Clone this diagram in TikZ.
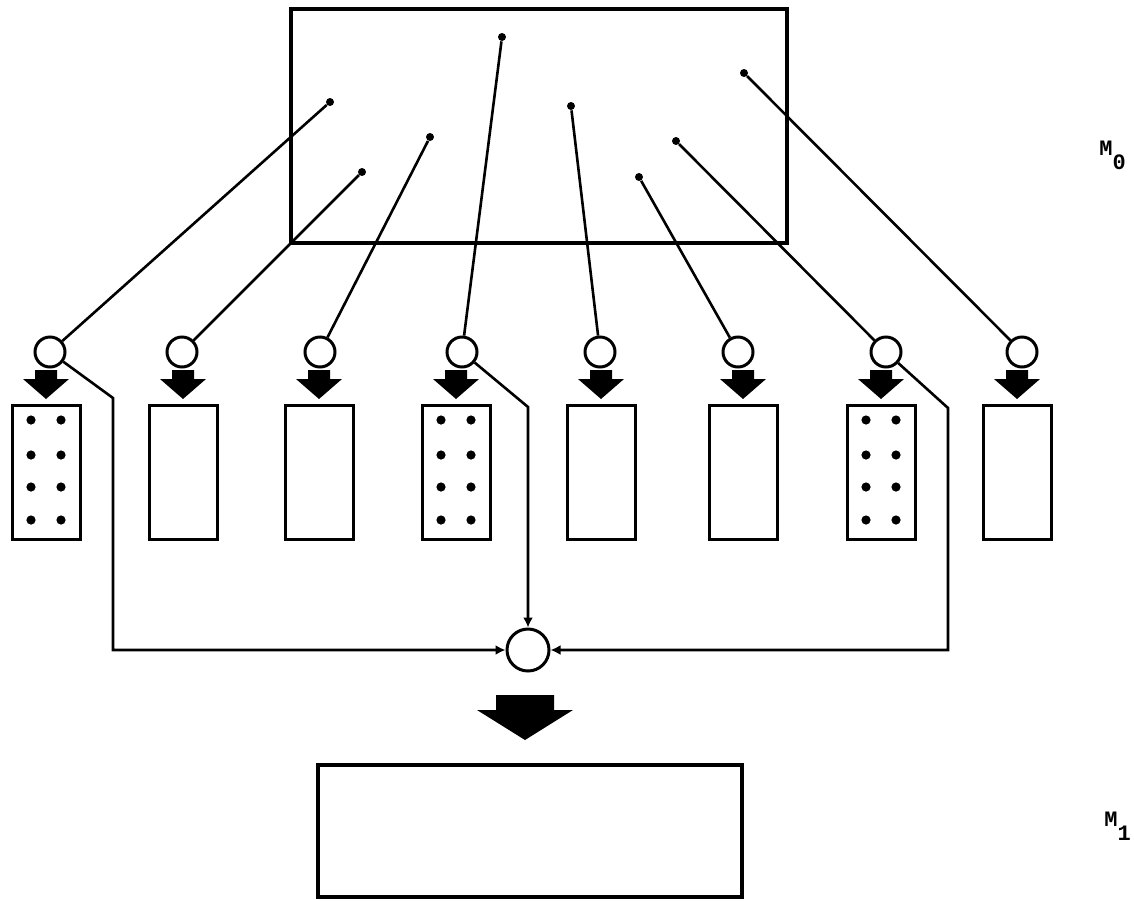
\documentclass[tikz,border=0pt]{standalone}
\usepackage{fontspec}
\usepackage{tikz}
\usetikzlibrary{arrows.meta,positioning,calc}
\newfontfamily\tagfont{Liberation Mono}

\tikzset{
  ring/.style={circle, draw, line width=1.5pt, minimum size=15pt, inner sep=0pt},
  spot/.style={circle, fill, minimum size=4pt, inner sep=0pt},
  cell/.style={rectangle, draw, line width=1.5pt, minimum width=34pt, minimum height=67pt, inner sep=0pt},
  store/.style={rectangle, draw, line width=1.6pt, inner sep=0pt},
  link/.style={line width=1.3pt},
  feed/.style={link, -{Latex[length=5pt,width=5pt]}},
  tag/.style={font=\tagfont\bfseries\fontsize{11}{13}\selectfont, anchor=base west, inner sep=0pt},
}

\begin{document}
\begin{tikzpicture}[x=0.5pt, y=-0.5pt]
  \useasboundingbox (0,0) rectangle (1134,900);
  % Upper store with its eight points
  \node[store, minimum width=248pt, minimum height=117pt] (top) at (539,126) {};
  \foreach \n/\x/\y in {1/330/102, 2/362/172, 3/430/137, 4/502/37,
                        5/571/106, 6/639/177, 7/676/141, 8/744/73}
    \node[spot] (p\n) at (\x,\y) {};
  % Row of selectors, block arrows and cells
  \foreach \n/\cx/\rx in {1/50/46, 2/182/183, 3/320/319, 4/462/456,
                          5/600/601, 6/738/743, 7/886/881, 8/1022/1017}{
    \node[ring] (c\n) at (\cx,352) {};
    \node[cell] (r\n) at (\rx,472) {};
    \fill (\rx,399) -- ++(-23,-20) -- ++(12,0) -- ++(0,-9) -- ++(22,0)
      -- ++(0,9) -- ++(12,0) -- cycle;
    \draw[link] (p\n) -- (c\n);
  }
  % Filled cells
  \foreach \n in {1,4,7}
    \foreach \dx in {-15,15}
      \foreach \dy in {-52,-17,15,48}
        \fill ($(r\n)+(\dx,\dy)$) circle[radius=2.3pt];
  % Merging circle
  \node[ring, minimum size=21pt] (sum) at (528,650) {};
  \coordinate (k1) at (113,398);
  \coordinate (k4) at (528,407);
  \coordinate (k7) at (948,408);
  \draw[feed] (c1) -- (k1) |- (sum);
  \draw[feed] (c4) -- (k4) -- (sum);
  \draw[feed] (c7) -- (k7) |- (sum);
  % Big arrow to lower store
  \fill (525,740) -- ++(-48,-30) -- ++(19,0) -- ++(0,-15) -- ++(58,0)
    -- ++(0,15) -- ++(19,0) -- cycle;
  \node[store, minimum width=212pt, minimum height=66pt] (bottom) at (530,831) {};
  % Labels
  \node[tag] (m0) at (1099,155) {M\raisebox{-7pt}{0}};
  \node[tag] (m1) at (1104,826) {M\raisebox{-7pt}{1}};
\end{tikzpicture}
\end{document}
